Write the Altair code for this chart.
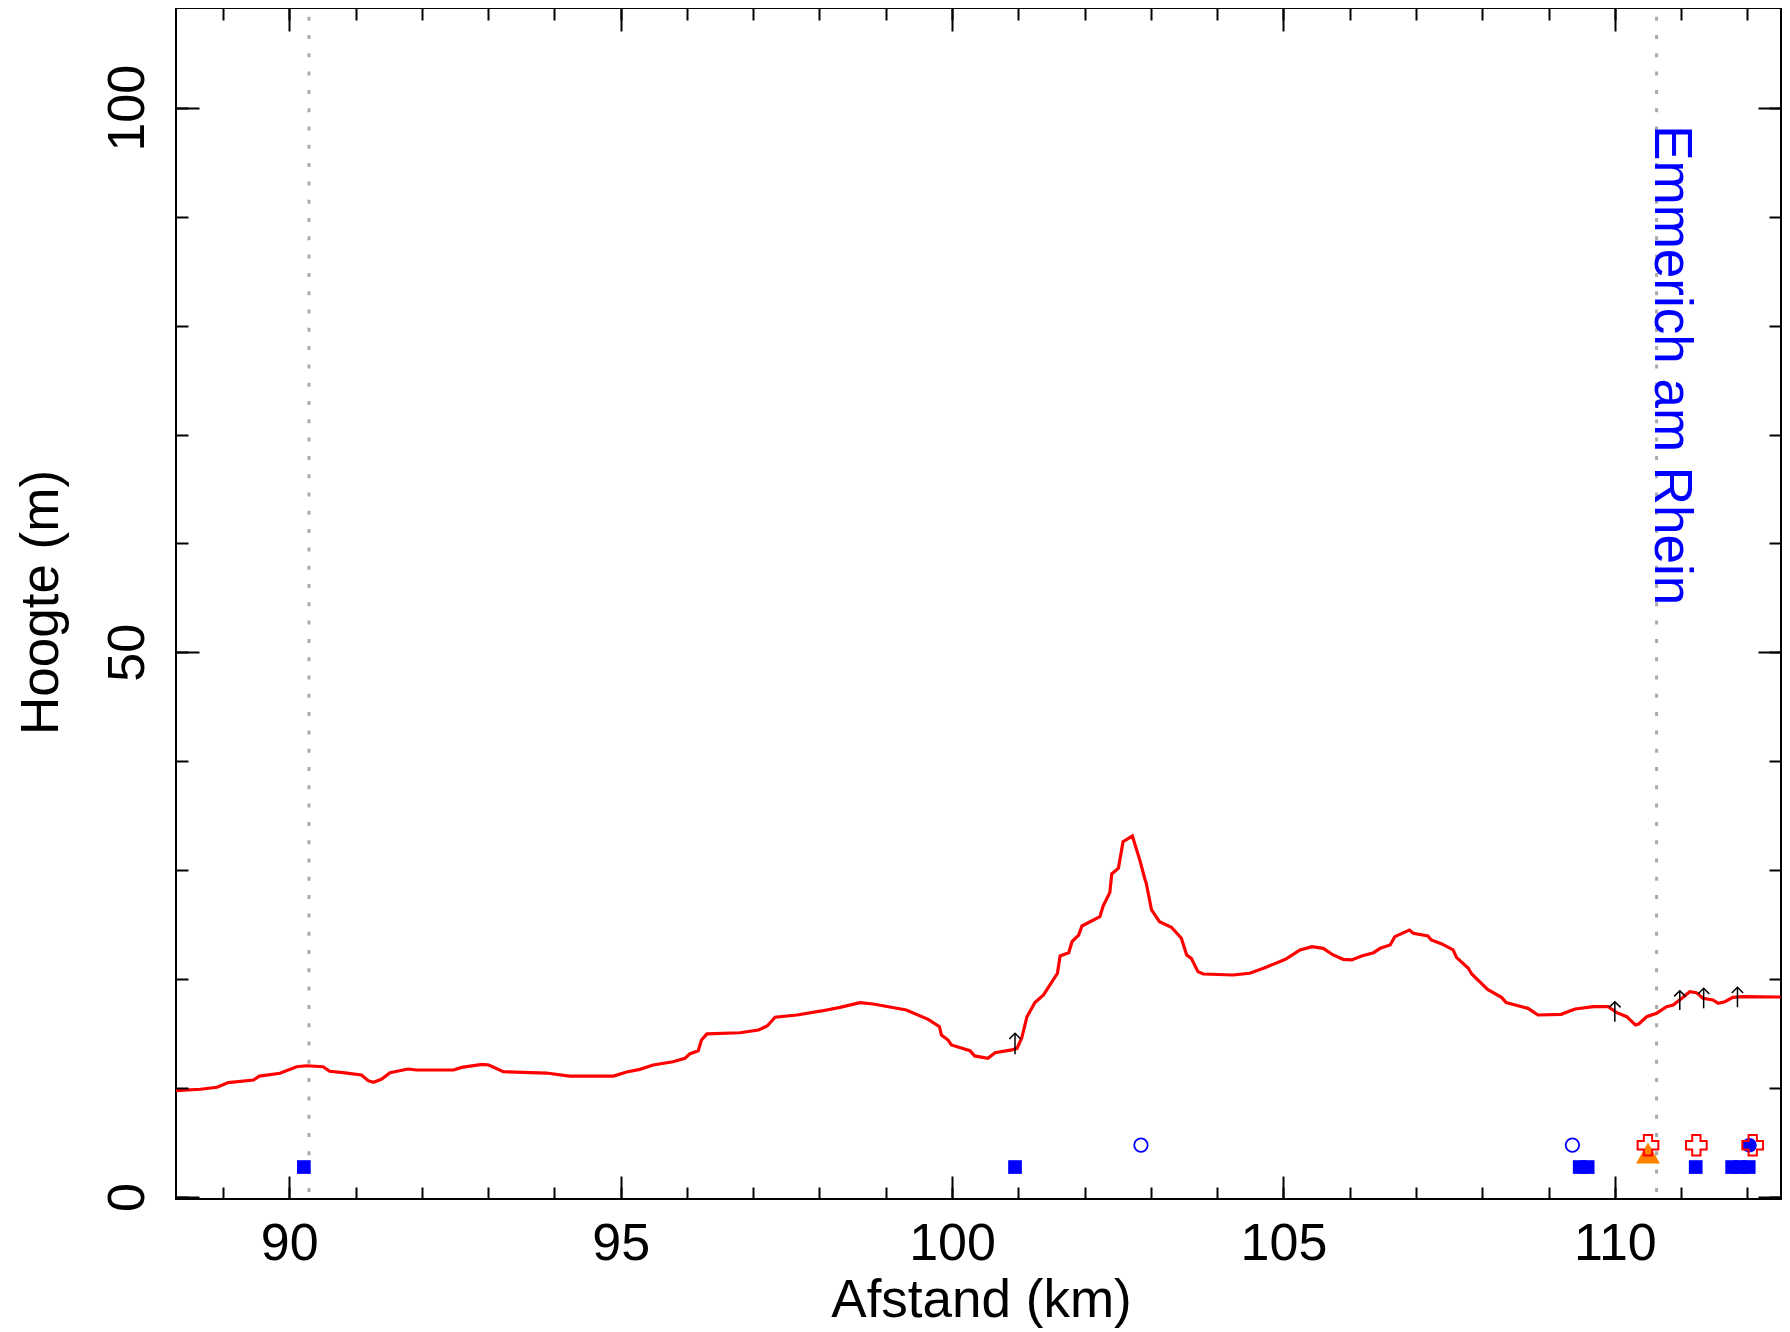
import altair as alt
import pandas as pd

FONT = "Liberation Sans"

# ---- elevation profile (km, m) ----
line_km = [88.29, 88.66, 88.91, 89.08, 89.46, 89.55, 89.86, 90.11, 90.26, 90.51,
           90.61, 90.81, 91.09, 91.19, 91.27, 91.39, 91.52, 91.79, 91.92, 92.48,
           92.60, 92.91, 93.01, 93.23, 93.88, 94.23, 94.89, 95.09, 95.29, 95.49,
           95.79, 95.97, 96.04, 96.17, 96.22, 96.30, 96.80, 97.08, 97.21, 97.33,
           97.66, 98.03, 98.31, 98.61, 98.81, 99.31, 99.64, 99.81, 99.84, 99.94,
           99.99, 100.27, 100.34, 100.54, 100.65, 100.90, 100.98, 101.05, 101.13, 101.25,
           101.38, 101.59, 101.63, 101.76, 101.81, 101.91, 101.96, 102.23, 102.28, 102.38,
           102.41, 102.51, 102.58, 102.72, 102.83, 102.91, 102.93, 103.01, 103.13, 103.31,
           103.46, 103.54, 103.61, 103.71, 103.79, 104.24, 104.49, 104.70, 105.03, 105.25,
           105.43, 105.60, 105.75, 105.90, 106.03, 106.18, 106.36, 106.46, 106.61, 106.68,
           106.90, 106.96, 107.18, 107.23, 107.39, 107.56, 107.61, 107.79, 107.84, 107.96,
           108.08, 108.29, 108.36, 108.69, 108.84, 109.19, 109.40, 109.68, 109.90, 110.03,
           110.18, 110.31, 110.36, 110.48, 110.63, 110.78, 110.88, 111.03, 111.13, 111.23,
           111.33, 111.48, 111.56, 111.66, 111.78, 111.93, 112.50]
line_m = [9.76, 9.89, 10.07, 10.50, 10.74, 11.10, 11.36, 11.96, 12.05, 11.96,
          11.54, 11.41, 11.20, 10.68, 10.53, 10.80, 11.41, 11.75, 11.66, 11.66,
          11.90, 12.18, 12.12, 11.50, 11.38, 11.10, 11.10, 11.48, 11.72, 12.12,
          12.42, 12.73, 13.13, 13.43, 14.41, 14.97, 15.08, 15.33, 15.70, 16.50,
          16.71, 17.08, 17.41, 17.84, 17.72, 17.17, 16.31, 15.64, 14.87, 14.41,
          13.96, 13.43, 12.95, 12.73, 13.25, 13.50, 13.65, 14.57, 16.55, 17.85,
          18.55, 20.54, 22.13, 22.43, 23.44, 24.05, 24.88, 25.73, 26.72, 27.94,
          29.66, 30.18, 32.62, 33.14, 31.00, 29.17, 28.80, 26.35, 25.28, 24.76,
          23.75, 22.22, 21.91, 20.69, 20.47, 20.38, 20.54, 21.00, 21.82, 22.68,
          22.98, 22.83, 22.22, 21.82, 21.76, 22.13, 22.43, 22.83, 23.14, 23.90,
          24.51, 24.21, 23.96, 23.60, 23.23, 22.68, 22.00, 21.00, 20.47, 19.77,
          19.05, 18.33, 17.84, 17.32, 16.71, 16.77, 17.26, 17.47, 17.47, 16.92,
          16.55, 15.79, 15.88, 16.55, 16.87, 17.47, 17.63, 18.33, 18.85, 18.76,
          18.24, 18.09, 17.78, 17.93, 18.33, 18.39, 18.36]

# ---- dotted place markers ----
vline_km = [90.297, 110.63]

# ---- point symbols ----
sq_km = [90.22, 100.95, 109.47, 109.59, 111.22, 111.77, 111.89, 112.02]
sq_m = [2.75, 2.75, 2.75, 2.75, 2.75, 2.75, 2.75, 2.75]
ocirc_km = [102.85, 109.36]
ocirc_m = [4.77, 4.77]
fcirc_km = [112.03]
fcirc_m = [4.75]
tri_km = [110.50]
tri_m = [4.04]
cross_km = [110.50, 111.23, 112.08]
cross_m = [4.75, 4.75, 4.75]

# ---- small arrows ----
arrow_km = [100.95, 110.00, 110.98, 111.34, 111.85]
arrow_lo = [13.10, 16.09, 17.17, 17.32, 17.42]
arrow_hi = [15.03, 17.93, 18.94, 19.16, 19.25]

# ---- place label ----
label_text = ["Emmerich am Rhein"]
label_km = [110.60]
label_m = [98.4]

# ---- ticks ----
x_major = [90, 95, 100, 105, 110]
x_minor = list(range(89, 113))
y_major = [0, 50, 100]
y_minor = list(range(0, 101, 10))

W = 1605
H = 1191
xs = alt.Scale(domain=[88.291, 112.507], nice=False, zero=False)
ys = alt.Scale(domain=[-0.184, 109.155], nice=False, zero=False)

line_df = pd.DataFrame({"km": line_km, "m": line_m})
vline_df = pd.DataFrame({"km": vline_km})
sq_df = pd.DataFrame({"km": sq_km, "m": sq_m})
oc_df = pd.DataFrame({"km": ocirc_km, "m": ocirc_m})
fc_df = pd.DataFrame({"km": fcirc_km, "m": fcirc_m})
tri_df = pd.DataFrame({"km": tri_km, "m": tri_m})
cr_df = pd.DataFrame({"km": cross_km, "m": cross_m})
ar_df = pd.DataFrame({"km": arrow_km, "lo": arrow_lo, "hi": arrow_hi})
lab_df = pd.DataFrame({"km": label_km, "m": label_m, "label": label_text})

def X(field="km:Q"):
    return alt.X(field, scale=xs, axis=None)

def Y(field="m:Q"):
    return alt.Y(field, scale=ys, axis=None)

vlines = alt.Chart(vline_df).mark_rule(
    color="#aaaaaa", strokeWidth=3, strokeDash=[4, 14.3], strokeDashOffset=9.6
).encode(x=X())

profile = alt.Chart(line_df).mark_line(color="#ff0000", strokeWidth=3.2, clip=True).encode(
    x=alt.X("km:Q", scale=xs, axis=alt.Axis(
        orient="bottom", values=x_major, ticks=False, tickSize=0, domain=False, grid=False,
        labelFont=FONT, labelFontSize=52, labelColor="black", labelBaseline="alphabetic",
        labelPadding=60, labelFlush=False, labelOverlap=False,
        title="Afstand (km)", titleFont=FONT, titleFontSize=53, titleFontWeight="normal",
        titleColor="black", titleX=805, titleY=117, titleAlign="center",
        titleBaseline="alphabetic", titleAngle=0)),
    y=alt.Y("m:Q", scale=ys, axis=alt.Axis(
        orient="left", values=y_major, ticks=False, tickSize=0, domain=False, grid=False,
        labelFont=FONT, labelFontSize=52, labelColor="black", labelAngle=270,
        labelAlign="center", labelBaseline="alphabetic", labelPadding=33,
        labelFlush=False, labelOverlap=False,
        title="Hoogte (m)", titleFont=FONT, titleFontSize=53, titleFontWeight="normal",
        titleColor="black", titleX=-119, titleY=594, titleAlign="center",
        titleBaseline="alphabetic", titleAngle=270)),
)

arrow_shaft = alt.Chart(ar_df).mark_rule(color="black", strokeWidth=1.5).encode(
    x=X(), y=Y("lo:Q"), y2=alt.Y2("hi:Q"))
arrow_head = alt.Chart(ar_df).mark_point(
    shape="M-1,1L0,0L1,1", filled=False, stroke="black", strokeWidth=1.5, size=130, opacity=1
).encode(x=X(), y=Y("hi:Q"))

squares = alt.Chart(sq_df).mark_point(
    shape="square", filled=True, color="#0000ff", size=188, opacity=1).encode(x=X(), y=Y())
ocircles = alt.Chart(oc_df).mark_point(
    shape="circle", filled=False, color="#0000ff", strokeWidth=1.8, size=182, opacity=1
).encode(x=X(), y=Y())
fcircles = alt.Chart(fc_df).mark_point(
    shape="circle", filled=True, color="#0000ff", size=216, opacity=1).encode(x=X(), y=Y())
triangles = alt.Chart(tri_df).mark_point(
    shape="triangle-up", filled=True, color="#ff8000", size=576, opacity=1).encode(x=X(), y=Y())
crosses = alt.Chart(cr_df).mark_point(
    shape="cross", filled=False, color="#ff0000", strokeWidth=2, size=428, opacity=1
).encode(x=X(), y=Y())

label = alt.Chart(lab_df).mark_text(
    angle=90, align="left", baseline="alphabetic", font=FONT, fontSize=53, color="#0000ff"
).encode(x=X(), y=Y(), text="label:N")


def tick_layer(xorient, yorient, xvals, yvals, size):
    common = dict(tickSize=size, tickWidth=2, tickColor="black", labels=False,
                  domain=False, grid=False, title=None, zindex=1)
    return alt.Chart(line_df).mark_point(opacity=0).encode(
        x=alt.X("km:Q", scale=xs, axis=alt.Axis(orient=xorient, offset=-H, values=xvals, **common)),
        y=alt.Y("m:Q", scale=ys, axis=alt.Axis(orient=yorient, offset=-W, values=yvals, **common)),
    )

t1 = tick_layer("top", "right", x_major, y_major, 23)
t2 = tick_layer("top", "right", x_minor, y_minor, 12)
t3 = tick_layer("bottom", "left", x_major, y_major, 23)
t4 = tick_layer("bottom", "left", x_minor, y_minor, 12)

chart = alt.layer(
    vlines, profile, arrow_shaft, arrow_head, squares, ocircles, triangles, fcircles,
    crosses, label, t1, t2, t3, t4
).resolve_axis(x="independent", y="independent").properties(
    width=W, height=H,
    autosize=alt.AutoSizeParams(type="none"),
    padding={"left": 168, "top": 0, "right": 1, "bottom": 136},
    background="white",
).configure_view(stroke="black", strokeWidth=2)

chart.save("out.html", embed_options={"renderer": "svg", "actions": False})
